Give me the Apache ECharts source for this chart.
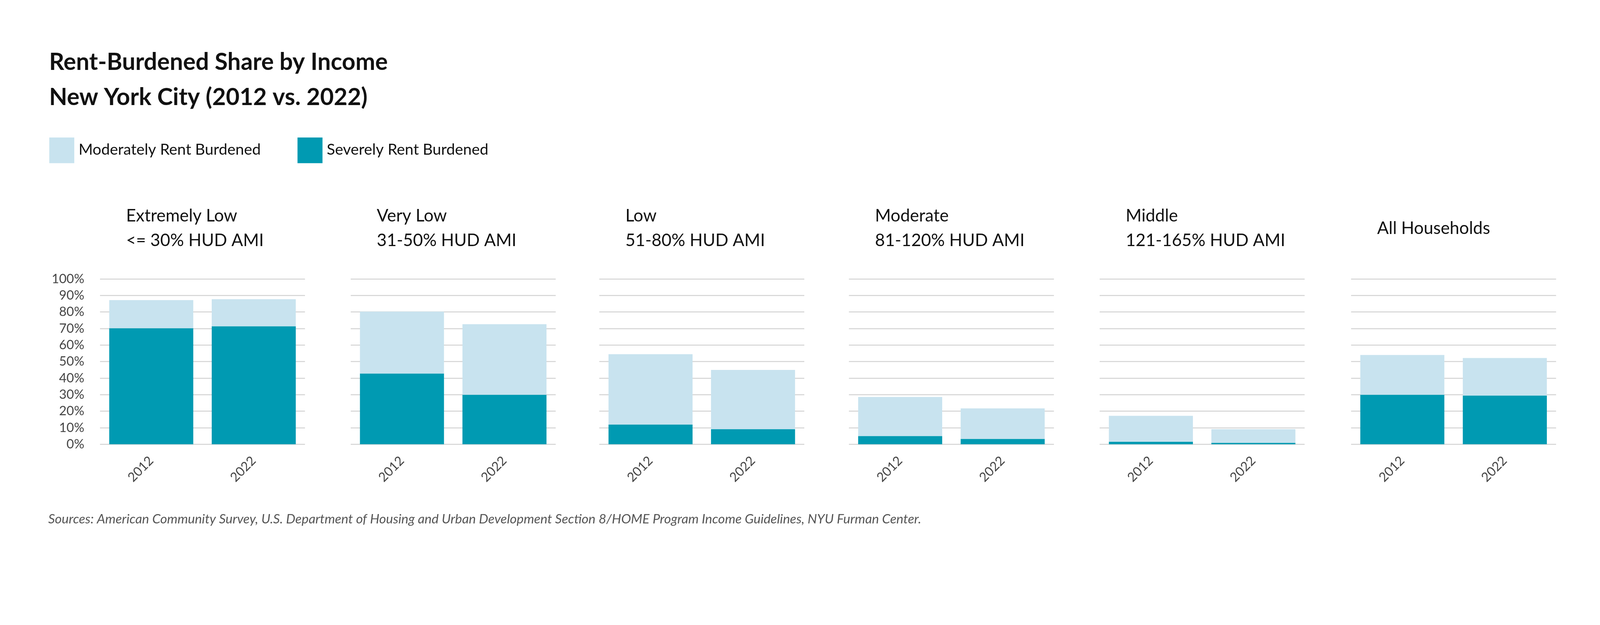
<!DOCTYPE html>
<html>
<head>
<meta charset="utf-8">
<script src="https://cdn.jsdelivr.net/npm/echarts@6/dist/echarts.min.js"></script>
<style>html,body{margin:0;padding:0;background:#fff;overflow:hidden}#c{width:100vw;height:100vh}</style>
</head>
<body>
<div id="c"></div>
<script>
// 数据:各收入组 2012 / 2022 的租金负担占比(%)
var years = ["2012", "2022"];
var groups = ["Extremely Low", "Very Low", "Low", "Moderate", "Middle", "All Households"];
var subtitles = ["<= 30% HUD AMI", "31-50% HUD AMI", "51-80% HUD AMI", "81-120% HUD AMI", "121-165% HUD AMI", ""];
// 严重负担(底段)
var severe = [[70.2, 71.4], [42.8, 30.0], [11.9, 9.2], [5.0, 3.3], [1.5, 0.9], [30.0, 29.5]];
// 中度负担(叠加段 = 总占比 - 严重)
var moderate = [[17.0, 16.3], [37.4, 42.6], [42.6, 35.8], [23.6, 18.4], [15.7, 8.2], [24.0, 22.7]];

var C = { light: "#C8E3EF", dark: "#009AB2", grid: "#D3D3D3", text: "#444", black: "#111" };
var FONT = "Lato, 'Open Sans', sans-serif";

var chart = echarts.init(document.getElementById("c"), null, { renderer: "canvas" });
// 按 4480 设计稿等比缩放(视口可能因 DPR 而小于 4480 CSS px)
var s = chart.getWidth() / 4480;
function px(v) { return v * s; }

var lefts = [280, 982, 1678, 2377, 3079, 3783];
var W = 574, TOP = 781, BOT = 1244;

var grids = [], xAxes = [], yAxes = [], series = [], graphics = [];
groups.forEach(function (g, i) {
  grids.push({ left: px(lefts[i]), width: px(W), top: px(TOP), height: px(BOT - TOP) });
  xAxes.push({ type: "category", gridIndex: i, data: years,
    axisLine: { show: false }, axisTick: { show: false },
    axisLabel: { rotate: 45, margin: px(40), color: C.text, fontSize: px(36), fontFamily: FONT } });
  yAxes.push({ type: "value", gridIndex: i, min: 0, max: 100, interval: 10,
    axisLine: { show: false }, axisTick: { show: false },
    axisLabel: { show: i === 0, color: C.text, fontSize: px(36), fontFamily: FONT, margin: px(44),
      formatter: function (v) { return v + "%"; } },
    splitLine: { lineStyle: { color: C.grid, width: px(3) } } });
  series.push({ name: "Severely Rent Burdened", type: "bar", stack: "s" + i,
    xAxisIndex: i, yAxisIndex: i, data: severe[i], barCategoryGap: "18%",
    itemStyle: { color: C.dark } });
  series.push({ name: "Moderately Rent Burdened", type: "bar", stack: "s" + i,
    xAxisIndex: i, yAxisIndex: i, data: moderate[i], barCategoryGap: "18%",
    itemStyle: { color: C.light } });
  var t = subtitles[i] ? g + "\n" + subtitles[i] : g;
  graphics.push({ type: "text", left: px(lefts[i] + 73), top: px(subtitles[i] ? 570 : 605),
    style: { text: t, fontSize: px(48), lineHeight: px(69), fill: C.black, fontFamily: FONT } });
});

// 图例(自绘色块)
graphics.push({ type: "rect", shape: { x: px(138), y: px(385), width: px(70), height: px(72) }, style: { fill: C.light } });
graphics.push({ type: "text", left: px(220), top: px(398), style: { text: "Moderately Rent Burdened", fontSize: px(43), fill: C.black, fontFamily: FONT } });
graphics.push({ type: "rect", shape: { x: px(833), y: px(385), width: px(70), height: px(72) }, style: { fill: C.dark } });
graphics.push({ type: "text", left: px(915), top: px(398), style: { text: "Severely Rent Burdened", fontSize: px(43), fill: C.black, fontFamily: FONT } });
// 来源
graphics.push({ type: "text", left: px(135), top: px(1435), style: {
  text: "Sources: American Community Survey, U.S. Department of Housing and Urban Development Section 8/HOME Program Income Guidelines, NYU Furman Center.",
  fontSize: px(37), fontStyle: "italic", fill: "#555", fontFamily: FONT } });

chart.setOption({
  backgroundColor: "#fff",
  animation: false,
  title: { text: "Rent-Burdened Share by Income\nNew York City (2012 vs. 2022)", left: px(132), top: px(120),
    textStyle: { fontSize: px(66), fontWeight: "bold", lineHeight: px(98), color: C.black, fontFamily: FONT } },
  grid: grids, xAxis: xAxes, yAxis: yAxes, series: series, graphic: graphics
});
</script>
</body>
</html>
